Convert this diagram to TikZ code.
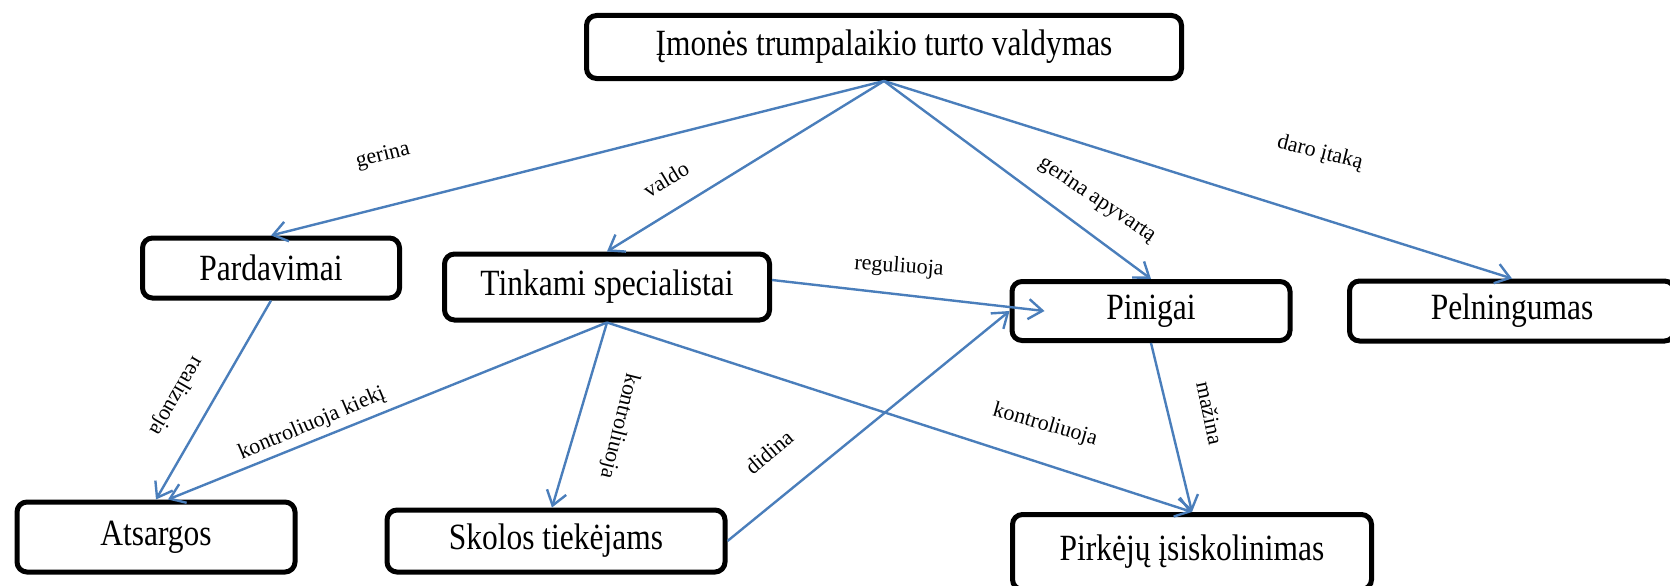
\documentclass[tikz,border=0pt]{standalone}
\usepackage{fontspec}
\setmainfont{Liberation Serif}
\newfontfamily\boxfont[FakeStretch=0.85]{Liberation Serif}
\usetikzlibrary{arrows.meta,calc}
\definecolor{linkblue}{RGB}{74,126,187}
\tikzset{
  box/.style={draw, line width=5pt, rounded corners=10pt, fill=white,
    inner sep=0pt, font=\boxfont\fontsize{37}{37}\selectfont},
  link/.style={draw=linkblue, line width=2.4pt,
    -{Straight Barb[length=14pt,width=20pt,line width=2.4pt]}},
  lbl/.style={font=\fontsize{22}{22}\selectfont, inner sep=1pt},
}
\begin{document}
\begin{tikzpicture}[x=1pt, y=-1pt]
\useasboundingbox (0,0) rectangle (1670,586);
\clip (0,0) rectangle (1670,586);

% concept boxes
\node[box, minimum width=595pt, minimum height=63pt] (top) at (884,47) {Įmonės trumpalaikio turto valdymas};
\node[box, minimum width=257pt, minimum height=60pt] (pard) at (271,268) {Pardavimai};
\node[box, minimum width=325pt, minimum height=66pt] (tink) at (607,287) {Tinkami specialistai};
\node[box, minimum width=278pt, minimum height=59pt] (pin) at (1151,311) {Pinigai};
\node[box, minimum width=325pt, minimum height=60pt] (pel) at (1512,311) {Pelningumas};
\node[box, minimum width=278pt, minimum height=70pt] (ats) at (156,537) {Atsargos};
\node[box, minimum width=338pt, minimum height=62pt] (sko) at (556,541) {Skolos tiekėjams};
\node[box, minimum width=359pt, minimum height=75pt] (pirk) at (1192,552) {\raisebox{6pt}{Pirkėjų įsiskolinimas}};

% relations
\draw[link] (top.south) -- (pard.north);
\draw[link] (top.south) -- (tink.north);
\draw[link] (top.south) -- (pin.north);
\draw[link] (top.south) -- (pel.north);
\draw[link] (pard.south) -- (ats.north);
\draw[link] (tink.south) -- ($(ats.north)+(12,0)$);
\draw[link] (tink.south) -- ($(sko.north)+(-4,0)$);
\draw[link] (tink.south) -- (pirk.north);
\draw[link] ($(tink.east)+(0,-7)$) -- ($(pin.west)+(35,0)$);
\draw[link] (sko.east) -- (pin.west);
\draw[link] (pin.south) -- (pirk.north);

% relation labels
\node[lbl, rotate=14] (lgerina) at (383,156) {gerina};
\node[lbl, rotate=31] (lvaldo) at (666,179) {valdo};
\node[lbl, rotate=-34] (lapyv) at (1097,200) {gerina apyvartą};
\node[lbl, rotate=-14] (litaka) at (1320,153) {daro įtaką};
\node[lbl, rotate=-120] (lreal) at (176,396) {realizuoja};
\node[lbl, rotate=23] (lkiek) at (312,424) {kontroliuoja kiekį};
\node[lbl, rotate=-104] (lkontr) at (619,426) {kontroliuoja};
\node[lbl, rotate=-16] (lkontr2) at (1045,425) {kontroliuoja};
\node[lbl, rotate=-78] (lmaz) at (1210,413) {mažina};
\node[lbl, rotate=-4] (lreg) at (899,267) {reguliuoja};
\node[lbl, rotate=40] (ldid) at (769,452) {didina};
\end{tikzpicture}
\end{document}
